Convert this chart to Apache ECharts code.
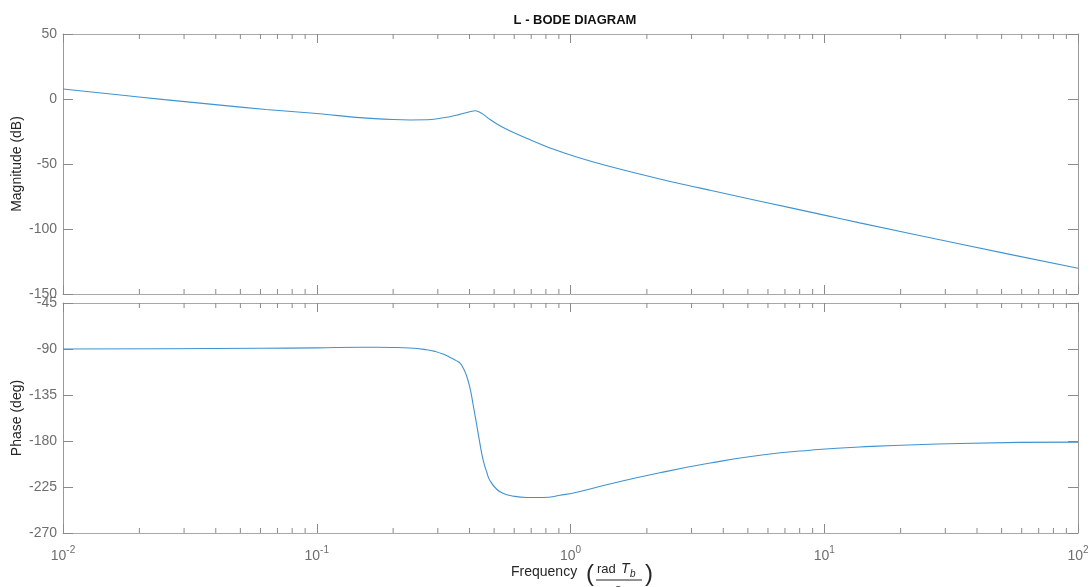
<!DOCTYPE html>
<html>
<head>
<meta charset="utf-8">
<script src="https://cdn.jsdelivr.net/npm/echarts@6/dist/echarts.min.js"></script>
<style>
html,body{margin:0;padding:0;background:#fff;}
#chart{width:1091px;height:587px;}
</style>
</head>
<body>
<div id="chart"></div>
<script>
// ---- data ----
const magFreq = [0.01, 0.0158, 0.0251, 0.0398, 0.0631, 0.1, 0.148, 0.2, 0.234, 0.282, 0.325, 0.363, 0.398, 0.421, 0.433, 0.453, 0.482, 0.513, 0.543, 0.596, 0.675, 0.853, 1.08, 1.43, 2.25, 3.55, 5.58, 10, 13.8, 34.3, 100];
const magDb   = [7.7, 3.6, -0.5, -4.3, -8.1, -11.2, -14.3, -15.8, -16.1, -15.8, -14.1, -12.0, -10.0, -9.0, -9.6, -11.8, -15.8, -19.2, -21.9, -25.8, -30.4, -38.5, -45.2, -51.9, -61.5, -70.2, -78.6, -89.3, -95.3, -111.6, -130.2];

const phaseFreq = [0.01, 0.0251, 0.0597, 0.1, 0.148, 0.2, 0.233, 0.271, 0.293, 0.315, 0.334, 0.356, 0.367, 0.378, 0.390, 0.402, 0.414, 0.427, 0.440, 0.453, 0.468, 0.482, 0.512, 0.543, 0.578, 0.671, 0.782, 0.910, 1.08, 1.43, 2.25, 3.55, 5.58, 8.79, 13.8, 34.3, 100];
const phaseDeg  = [-90, -89.7, -89.3, -88.9, -88.3, -88.5, -89.0, -90.7, -92.4, -95, -98.0, -101.6, -103.9, -108.8, -116.7, -128.6, -145.5, -164.3, -183.1, -199, -210.8, -218.8, -227.2, -231.1, -233.3, -235.3, -235.3, -233.1, -229.6, -222, -211.1, -201.6, -194, -189, -185.8, -182.4, -181.1];

const minorTickValues = [0.02,0.03,0.04,0.05,0.06,0.07,0.08,0.09, 0.2,0.3,0.4,0.5,0.6,0.7,0.8,0.9, 2,3,4,5,6,7,8,9, 20,30,40,50,60,70,80,90];

const magRange = [-150, 50];
const phaseRange = [-270, -45];

// ---- styling ----
const FONT = 'Liberation Sans, Arial, sans-serif';
const lineColor = '#3f93d2';
const axisGray = '#a8a8a8';
const tickGray = '#8a8a8a';
const labelGray = '#6e6e6e';

function xAxisCfg(gridIndex, position, showLabels) {
  return {
    type: 'log', logBase: 10, min: 0.01, max: 100, splitNumber: 4,
    gridIndex: gridIndex, position: position,
    axisLine: { show: true, onZero: false, lineStyle: { color: axisGray, width: 1 } },
    axisTick: { show: true, inside: true, length: 9, lineStyle: { color: tickGray } },
    splitLine: { show: false },
    axisLabel: showLabels ? {
      show: true, margin: 12, color: labelGray, fontFamily: FONT, fontSize: 14,
      formatter: function (v) { return '{b|10}{s|' + Math.round(Math.log10(v)) + '}'; },
      rich: {
        b: { fontSize: 14, fontFamily: FONT, color: labelGray, verticalAlign: 'bottom' },
        s: { fontSize: 10, fontFamily: FONT, color: labelGray, verticalAlign: 'bottom', padding: [0, 0, 8, 0] }
      }
    } : { show: false }
  };
}
function yAxisCfg(gridIndex, position, range, interval, showLabels, name) {
  return {
    type: 'value', gridIndex: gridIndex, position: position,
    min: range[0], max: range[1], interval: interval,
    axisLine: { show: true, onZero: false, lineStyle: { color: '#9a9a9a', width: 1 } },
    axisTick: { show: true, inside: true, length: 10, lineStyle: { color: tickGray } },
    splitLine: { show: false },
    axisLabel: showLabels ? { show: true, margin: 6, color: labelGray, fontFamily: FONT, fontSize: 14 } : { show: false },
    name: name || '', nameLocation: 'middle', nameGap: 39, nameRotate: 90, nameMoveOverlap: false,
    nameTextStyle: { color: '#262626', fontFamily: FONT, fontSize: 14 }
  };
}

function minorTickSeries(xIdx, yIdx, range) {
  return {
    type: 'custom', xAxisIndex: xIdx, yAxisIndex: yIdx, silent: true, clip: false,
    data: minorTickValues.map(v => [v, range[0]]),
    encode: { x: 0, y: 1 },
    renderItem: function (params, api) {
      const v = api.value(0);
      const b = api.coord([v, range[0]]);
      const t = api.coord([v, range[1]]);
      return { type: 'group', children: [
        { type: 'line', shape: { x1: b[0], y1: b[1], x2: b[0], y2: b[1] - 5 }, style: { stroke: tickGray, lineWidth: 1 } },
        { type: 'line', shape: { x1: t[0], y1: t[1], x2: t[0], y2: t[1] + 5 }, style: { stroke: tickGray, lineWidth: 1 } }
      ]};
    }
  };
}

const chart = echarts.init(document.getElementById('chart'), null, { renderer: 'canvas' });
chart.setOption({
  animation: false,
  backgroundColor: '#ffffff',
  title: {
    text: 'L - BODE DIAGRAM', left: 570, textAlign: 'center', top: 9,
    textStyle: { fontFamily: FONT, fontSize: 13, fontWeight: 'bold', color: '#111' }
  },
  grid: [
    { left: 63, top: 34, width: 1015, height: 260, outerBoundsMode: 'none', containLabel: false },
    { left: 63, top: 303, width: 1015, height: 230, outerBoundsMode: 'none', containLabel: false }
  ],
  xAxis: [
    xAxisCfg(0, 'bottom', false),
    xAxisCfg(0, 'top', false),
    xAxisCfg(1, 'bottom', true),
    xAxisCfg(1, 'top', false)
  ],
  yAxis: [
    yAxisCfg(0, 'left', magRange, 50, true, 'Magnitude (dB)'),
    yAxisCfg(0, 'right', magRange, 50, false),
    yAxisCfg(1, 'left', phaseRange, 45, true, 'Phase (deg)'),
    yAxisCfg(1, 'right', phaseRange, 45, false)
  ],
  series: [
    {
      type: 'line', xAxisIndex: 0, yAxisIndex: 0, showSymbol: false,
      smooth: 0.3,
      lineStyle: { color: lineColor, width: 1.1 },
      data: magFreq.map((f, i) => [f, magDb[i]])
    },
    {
      type: 'line', xAxisIndex: 2, yAxisIndex: 2, showSymbol: false,
      smooth: 0.5,
      lineStyle: { color: lineColor, width: 1.1 },
      data: phaseFreq.map((f, i) => [f, phaseDeg[i]])
    },
    minorTickSeries(0, 0, magRange),
    minorTickSeries(2, 2, phaseRange)
  ],
  graphic: [
    { type: 'text', x: 511, y: 572, style: { text: 'Frequency', font: '14px ' + FONT, fill: '#262626', textVerticalAlign: 'middle' } },
    { type: 'text', x: 586, y: 574, style: { text: '(', font: '24px ' + FONT, fill: '#262626', textVerticalAlign: 'middle' } },
    { type: 'text', x: 597, y: 569, style: { text: 'rad', font: '13px ' + FONT, fill: '#262626', textVerticalAlign: 'middle' } },
    { type: 'text', x: 621, y: 569, style: { text: 'T', font: 'italic 14px ' + FONT, fill: '#262626', textVerticalAlign: 'middle' } },
    { type: 'text', x: 630, y: 574, style: { text: 'b', font: 'italic 10px ' + FONT, fill: '#262626', textVerticalAlign: 'middle' } },
    { type: 'line', shape: { x1: 596, y1: 580, x2: 642, y2: 580 }, style: { stroke: '#262626', lineWidth: 1 } },
    { type: 'text', x: 615, y: 589, style: { text: 's', font: '13px ' + FONT, fill: '#262626', textVerticalAlign: 'middle' } },
    { type: 'text', x: 645, y: 574, style: { text: ')', font: '24px ' + FONT, fill: '#262626', textVerticalAlign: 'middle' } }
  ]
});
</script>
</body>
</html>
